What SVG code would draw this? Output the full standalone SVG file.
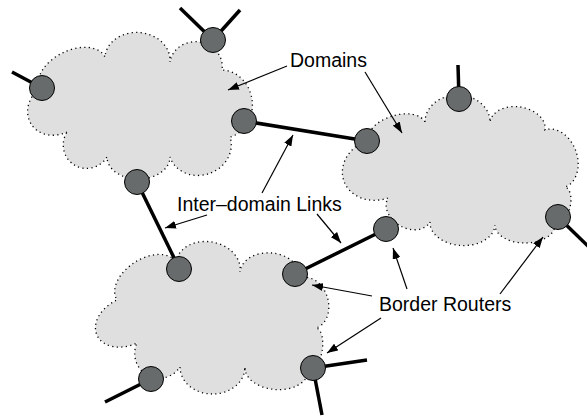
<svg xmlns="http://www.w3.org/2000/svg" width="587" height="417" viewBox="0 0 587 417">
<defs>
<marker id="ah" markerUnits="userSpaceOnUse" markerWidth="12" markerHeight="8" refX="11" refY="4" orient="auto">
<path d="M0,0 L11,4 L0,8 Z" fill="#000"/>
</marker>
<style>
.cloud{fill:#dfdfdf;stroke:#000;stroke-width:1.3;stroke-dasharray:1.2 3.3}
.link{stroke:#000;stroke-width:3.5;fill:none}
.node{fill:#676b6b;stroke:#000;stroke-width:1}
.arrow{stroke:#000;stroke-width:1.2;fill:none;marker-end:url(#ah)}
.lbl{font-family:"Liberation Sans",Arial,sans-serif;font-size:19.5px;fill:#000}
</style>
</defs>
<rect width="587" height="417" fill="#fff"/>
<g id="domain1">
<path class="cloud" d="M67,132 A26,30 -121.5 0 1 40,88 A36,22 -25.5 0 1 105,57 A32.5,27 4.4 0 1 170,62 A26,24 8.7 0 1 222,70 A34,30 83.2 0 1 230,137 A31.5,28 161.6 0 1 170,157 A31.5,22 180 0 1 107,157 A23.5,24 -148 0 1 67,132 Z"/>
</g>
<g id="domain2">
<path class="cloud" d="M425,122 A32.5,27 0 0 1 490,122 A27.5,19 8.3 0 1 545,130 A30,22 70.7 0 1 565,187 A19.5,10 104.7 0 1 555,225 A30,18 180 0 1 495,225 A32.5,22 -177.4 0 1 430,222 A24,18 -150.3 0 1 388,198 A30.5,36 -109 0 1 368,140 A30,17 -17.5 0 1 425,122 Z"/>
</g>
<g id="domain3">
<path class="cloud" d="M176,262 A32,25 9.6 0 1 240,272 A30,22 5.7 0 1 300,278 A26,20 72.3 0 1 316,328 A22,10 100.3 0 1 308,372 A31.5,20 -175.5 0 1 245,367 A32.5,27 180 0 1 180,367 A24.7,25 -150.8 0 1 137,343 A23.7,33 -115 0 1 117,300 A35,22 -32.8 0 1 176,262 Z"/>
</g>
<g id="connectors">
<line class="link" x1="213" y1="40" x2="180" y2="8"/>
<line class="link" x1="213" y1="40" x2="240" y2="10"/>
<line class="link" x1="42" y1="88" x2="12" y2="72"/>
<line class="link" x1="459" y1="99" x2="458" y2="65"/>
<line class="link" x1="558" y1="217" x2="590" y2="248"/>
<line class="link" x1="313" y1="368" x2="367" y2="360"/>
<line class="link" x1="313" y1="368" x2="322" y2="415"/>
<line class="link" x1="151" y1="379" x2="105" y2="402"/>
<line class="link" x1="244" y1="121" x2="367" y2="141"/>
<line class="link" x1="137" y1="182" x2="179" y2="268"/>
<line class="link" x1="295" y1="274" x2="386" y2="229"/>
<line class="arrow" x1="287" y1="66" x2="228" y2="90"/>
<line class="arrow" x1="365" y1="72" x2="402" y2="133"/>
<line class="arrow" x1="262" y1="193" x2="293" y2="135"/>
<line class="arrow" x1="207" y1="215" x2="165" y2="228"/>
<line class="arrow" x1="317" y1="214" x2="341" y2="243"/>
<line class="arrow" x1="372" y1="296" x2="312" y2="285"/>
<line class="arrow" x1="407" y1="289" x2="393" y2="248"/>
<line class="arrow" x1="500" y1="294" x2="543" y2="237"/>
<line class="arrow" x1="381" y1="318" x2="327" y2="353"/>
</g>
<g id="r1"><circle class="node" cx="213" cy="40" r="12.5"/></g>
<g id="r2"><circle class="node" cx="42" cy="88" r="12.5"/></g>
<g id="r3"><circle class="node" cx="244" cy="121" r="12.5"/></g>
<g id="r4"><circle class="node" cx="137" cy="182" r="12.5"/></g>
<g id="r5"><circle class="node" cx="367" cy="141" r="12.5"/></g>
<g id="r6"><circle class="node" cx="459" cy="99" r="12.5"/></g>
<g id="r7"><circle class="node" cx="386" cy="229" r="12.5"/></g>
<g id="r8"><circle class="node" cx="558" cy="217" r="12.5"/></g>
<g id="r9"><circle class="node" cx="179" cy="269" r="12.5"/></g>
<g id="r10"><circle class="node" cx="295" cy="274" r="12.5"/></g>
<g id="r11"><circle class="node" cx="313" cy="368" r="12.5"/></g>
<g id="r12"><circle class="node" cx="151" cy="379" r="12.5"/></g>
<g id="labels">
<text class="lbl" x="290" y="67">Domains</text>
<text class="lbl" x="177" y="211">Inter–domain Links</text>
<text class="lbl" x="379" y="311">Border Routers</text>
</g>
</svg>
